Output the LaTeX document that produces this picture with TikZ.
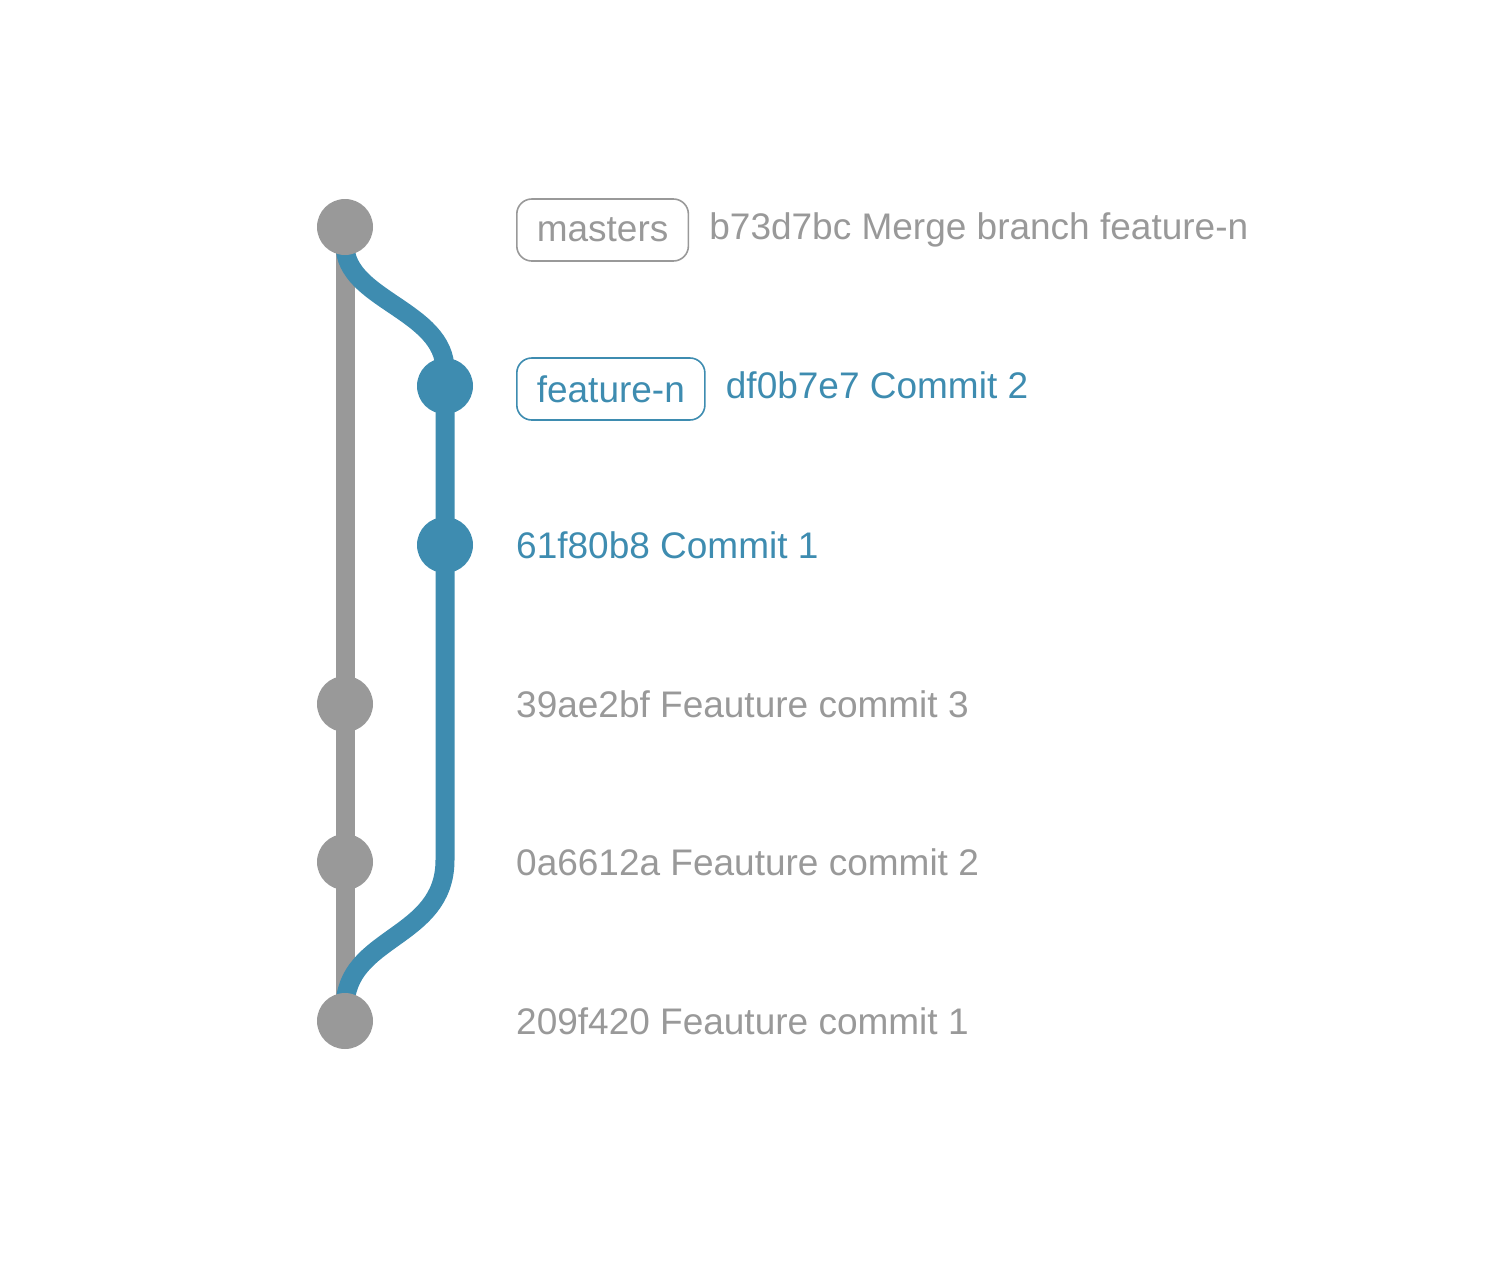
\documentclass[tikz,border=0pt]{standalone}
\usepackage{fontspec}
\setmainfont{Liberation Sans}
\definecolor{gitgray}{RGB}{153,153,153}
\definecolor{gitblue}{RGB}{62,140,176}
\begin{document}
\begin{tikzpicture}[x=1pt,y=-1pt,
  commit/.style={circle,fill=#1,minimum size=56pt,inner sep=0pt},
  branchline/.style={line width=19pt,draw=#1},
  tagbox/.style={draw=#1,text=#1,line width=1.6pt,rounded corners=15pt,
     minimum height=62pt,inner xsep=20pt,inner ysep=0pt,anchor=west,
     font=\fontsize{37}{40}\selectfont},
  msg/.style={text=#1,inner sep=0pt,anchor=base west,font=\fontsize{37}{40}\selectfont}]
\useasboundingbox (0,0) rectangle (1508,1274);
% coordinates
\coordinate (m1) at (345,227);
\coordinate (f2) at (445,386);
\coordinate (f1) at (445,545);
\coordinate (m3) at (345,704);
\coordinate (m2) at (345,862);
\coordinate (m0) at (345,1021);
\coordinate (fb) at (445,860);
\coordinate (mt) at (345,245);
\coordinate (mb) at (345,1008);
% lines
\draw[branchline=gitgray] (m1) -- (m0);
\draw[branchline=gitblue] (mt) .. controls (345,300) and (445,310) .. (445,370) -- (f2) -- (f1) -- (fb)
   .. controls (445,940) and (345,935) .. (mb);
% commits
\node[commit=gitgray] (c1) at (m1) {};
\node[commit=gitblue] (c2) at (f2) {};
\node[commit=gitblue] (c3) at (f1) {};
\node[commit=gitgray] (c4) at (m3) {};
\node[commit=gitgray] (c5) at (m2) {};
\node[commit=gitgray] (c6) at (m0) {};
% labels
\node[tagbox=gitgray] (t1) at (516,230) {masters};
\node[msg=gitgray] (l1) at ([xshift=20pt]t1.east |- 0,239) {b73d7bc Merge branch feature-n};
\node[tagbox=gitblue] (t2) at (516,389) {feature-n};
\node[msg=gitblue] (l2) at ([xshift=20pt]t2.east |- 0,398) {df0b7e7 Commit 2};
\node[msg=gitblue] (l3) at (516,558) {61f80b8 Commit 1};
\node[msg=gitgray] (l4) at (516,717) {39ae2bf Feauture commit 3};
\node[msg=gitgray] (l5) at (516,875) {0a6612a Feauture commit 2};
\node[msg=gitgray] (l6) at (516,1034) {209f420 Feauture commit 1};
\end{tikzpicture}
\end{document}
